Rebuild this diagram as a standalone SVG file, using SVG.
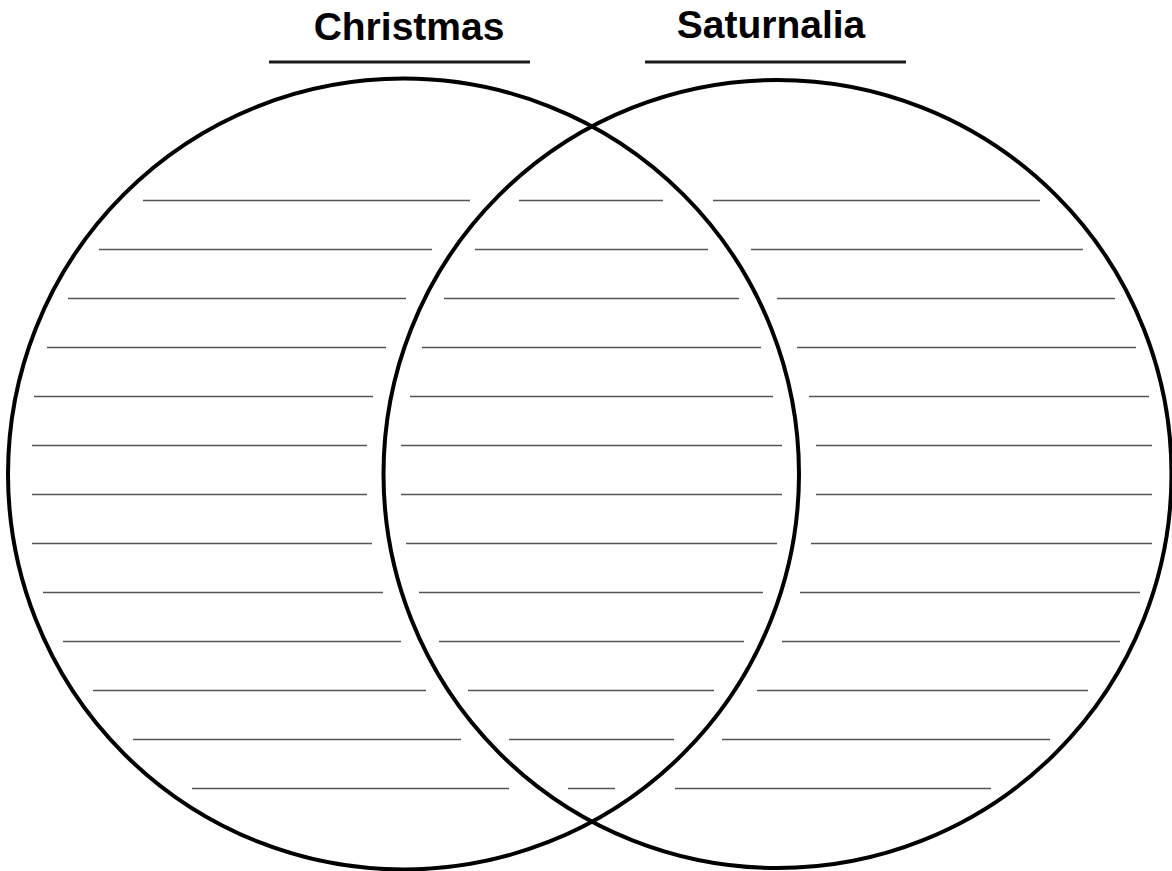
<svg xmlns="http://www.w3.org/2000/svg" width="1172" height="871" viewBox="0 0 1172 871">
<style>
.title{font-family:"Liberation Sans",Arial,sans-serif;font-weight:700;font-size:39px;fill:#000;text-anchor:middle}
.ul{stroke:#1a1a1a;stroke-width:3;fill:none}
.circ{stroke:#000;stroke-width:4;fill:none}
.wl{stroke:#555;stroke-width:1.7;fill:none}
</style>
<rect width="1172" height="871" fill="#fff"/>
<g id="title-christmas">
<text class="title" x="409" y="40">Christmas</text>
<line class="ul" x1="269" y1="62" x2="530" y2="62"/>
</g>
<g id="title-saturnalia">
<text class="title" x="771" y="38">Saturnalia</text>
<line class="ul" x1="645" y1="62" x2="906" y2="62"/>
</g>
<g id="writing-lines">
<path class="wl" d="M143 200.5H470M519 200.5H663M713 200.5H1040
M99 249.5H432M475 249.5H708M751 249.5H1083
M68 298.5H406M444 298.5H739M777 298.5H1115
M47 347.5H386M422 347.5H761M797 347.5H1136
M34 396.5H373M410 396.5H773M809 396.5H1149
M32 445.5H367M401 445.5H782M816 445.5H1152
M32 494.5H367M401 494.5H782M816 494.5H1152
M32 543.5H372M406 543.5H777M811 543.5H1152
M43 592.5H383M419 592.5H763M800 592.5H1140
M63 641.5H401M439 641.5H744M782 641.5H1120
M93 690.5H426M468 690.5H714M757 690.5H1088
M133 739.5H461M509 739.5H674M722 739.5H1050
M192 788.5H509M568 788.5H615M675 788.5H991"/>
</g>
<g id="circle-christmas">
<circle class="circ" cx="403.5" cy="474" r="395.5"/>
</g>
<g id="circle-saturnalia">
<circle class="circ" cx="777.5" cy="474" r="394"/>
</g>
</svg>
